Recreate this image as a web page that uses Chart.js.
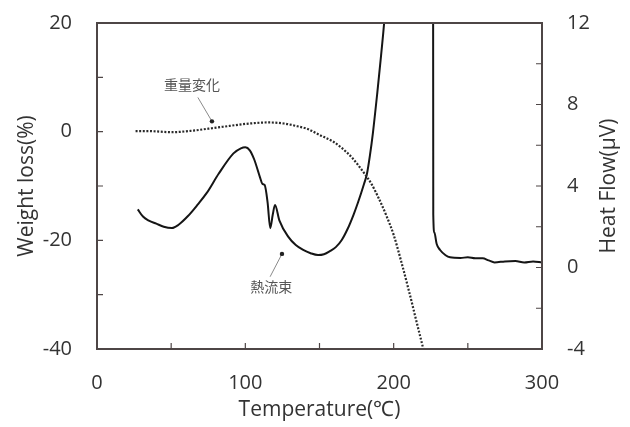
<!DOCTYPE html>
<html>
<head>
<meta charset="utf-8">
<script src="https://cdn.jsdelivr.net/npm/chart.js@4"></script>
<style>
html,body{margin:0;padding:0;background:#fff;}
#wrap{width:630px;height:427px;position:relative;}
</style>
</head>
<body>
<div id="wrap"><canvas id="c" width="630" height="427"></canvas></div>
<script>
// ---- data ----
const weightTemp = [26, 35, 50, 65, 75, 85, 96, 105, 115, 126, 135, 142, 150, 159, 165, 172, 180, 185, 190, 195, 200, 205, 210, 215, 220];
const weightLoss = [0.1, 0.1, -0.1, 0.2, 0.55, 0.9, 1.3, 1.55, 1.7, 1.5, 1.0, 0.5, -0.6, -1.8, -3.0, -4.8, -7.6, -9.6, -12.3, -15.4, -19.0, -23.8, -29.0, -34.5, -40];

const heatTemp = [27.5, 31, 35, 40, 45, 50.5, 55, 61, 68, 74, 82, 92, 97, 100, 103, 106, 110, 111.5, 113, 115, 116.8, 118.5, 120, 123, 129, 134, 139, 144, 149, 153, 157, 161, 165, 169, 173, 176, 180, 182, 184, 186, 189, 191.5, 194, 197, 200, 226.5, 226.7, 227.5, 229, 231.3, 235, 238, 245, 250, 255, 260, 264, 268, 275, 282, 288, 294, 300];
const heatFlow = [2.85, 2.5, 2.3, 2.15, 2.0, 1.94, 2.1, 2.5, 3.1, 3.66, 4.6, 5.6, 5.85, 5.9, 5.75, 5.3, 4.4, 4.1, 4.05, 3.2, 1.93, 2.6, 3.07, 2.3, 1.5, 1.1, 0.86, 0.7, 0.61, 0.65, 0.8, 1.0, 1.35, 1.9, 2.6, 3.2, 4.1, 4.6, 5.5, 6.6, 8.6, 10.4, 12.4, 16, 22, 22, 2.6, 1.7, 1.15, 0.86, 0.6, 0.5, 0.47, 0.5, 0.45, 0.45, 0.35, 0.25, 0.3, 0.32, 0.25, 0.3, 0.25];

const xTicks = [0, 100, 200, 300];
const leftTicks = [-40, -20, 0, 20];
const rightTicks = [-4, 0, 4, 8, 12];

// annotation labels (anchored in left-axis data units)
const noteText = ['重量変化', '熱流束'];
const noteTextT = [64, 117.5];
const noteTextW = [8.7, -28.5];
const noteFromT = [68, 116.7];
const noteFromW = [6.3, -26.7];
const noteToT = [77.5, 124.7];
const noteToW = [1.9, -22.5];

const FRAME = '#4e4646';
const TXT = '#333333';

const decor = {
  id: 'decor',
  afterDatasetsDraw(chart) {
    const {ctx, chartArea: a, scales} = chart;
    const x = scales.x, y = scales.y, y2 = scales.y2;
    ctx.save();
    // frame
    ctx.strokeStyle = FRAME;
    ctx.lineWidth = 2;
    ctx.strokeRect(a.left, a.top, a.right - a.left, a.bottom - a.top);
    // inward ticks
    ctx.lineWidth = 1.2;
    ctx.beginPath();
    for (let t = 50; t < 300; t += 50) {
      const px = x.getPixelForValue(t);
      ctx.moveTo(px, a.bottom); ctx.lineTo(px, a.bottom - 6);
    }
    for (let v = -30; v < 20; v += 10) {
      const py = y.getPixelForValue(v);
      ctx.moveTo(a.left, py); ctx.lineTo(a.left + 6, py);
    }
    for (let v = -2; v < 12; v += 2) {
      const py = y2.getPixelForValue(v);
      ctx.moveTo(a.right, py); ctx.lineTo(a.right - 6, py);
    }
    ctx.stroke();
    // right axis title (reads bottom to top)
    ctx.fillStyle = TXT;
    ctx.font = '21px "Open Sans"';
    ctx.textAlign = 'center';
    ctx.textBaseline = 'middle';
    ctx.translate(609, (a.top + a.bottom) / 2);
    ctx.rotate(-Math.PI / 2);
    ctx.fillText('Heat Flow(\u03bcV)', 0, 0);
    ctx.restore();

    // annotations
    ctx.save();
    for (let i = 0; i < noteText.length; i++) {
      const fx = x.getPixelForValue(noteFromT[i]), fy = y.getPixelForValue(noteFromW[i]);
      const tx = x.getPixelForValue(noteToT[i]), ty = y.getPixelForValue(noteToW[i]);
      ctx.strokeStyle = '#8a8a8a';
      ctx.lineWidth = 1;
      ctx.beginPath(); ctx.moveTo(fx, fy); ctx.lineTo(tx, ty); ctx.stroke();
      ctx.fillStyle = '#222';
      ctx.beginPath(); ctx.arc(tx, ty, 2.2, 0, Math.PI * 2); ctx.fill();
      ctx.fillStyle = '#555';
      ctx.font = '14px "Noto Sans CJK JP"';
      ctx.textAlign = 'center';
      ctx.textBaseline = 'middle';
      ctx.fillText(noteText[i], x.getPixelForValue(noteTextT[i]), y.getPixelForValue(noteTextW[i]));
    }
    ctx.restore();
  }
};

const weightData = weightTemp.map((t, i) => ({x: t, y: weightLoss[i]}));
const heatData = heatTemp.map((t, i) => ({x: t, y: heatFlow[i]}));

function noPad(s) { s.paddingTop = 0; s.paddingBottom = 0; s.paddingLeft = 0; s.paddingRight = 0; }

new Chart(document.getElementById('c'), {
  type: 'line',
  data: {
    datasets: [
      {
        label: '重量変化',
        data: weightData,
        yAxisID: 'y',
        borderColor: '#2a2a2a',
        borderWidth: 2.2,
        borderDash: [2, 1.6],
        pointRadius: 0,
        cubicInterpolationMode: 'monotone',
        clip: 0,
        fill: false
      },
      {
        label: '熱流束',
        data: heatData,
        yAxisID: 'y2',
        borderColor: '#151515',
        borderWidth: 2,
        pointRadius: 0,
        cubicInterpolationMode: 'monotone',
        clip: 0,
        fill: false
      }
    ]
  },
  options: {
    responsive: false,
    animation: false,
    devicePixelRatio: 1,
    layout: {padding: {top: 23, left: 0, right: 0, bottom: 0}},
    plugins: {legend: {display: false}, tooltip: {enabled: false}},
    scales: {
      x: {
        type: 'linear', position: 'bottom', min: 0, max: 300,
        afterBuildTicks: s => { s.ticks = xTicks.map(v => ({value: v})); },
        afterFit: s => { s.height = 78; noPad(s); },
        grid: {display: false, drawTicks: false},
        border: {display: false},
        ticks: {color: TXT, font: {family: 'Open Sans', size: 20}, padding: 22, maxRotation: 0},
        title: {display: true, text: 'Temperature(\u2103)', color: TXT, font: {family: 'Open Sans', size: 21}, padding: {top: 0, bottom: 4}}
      },
      y: {
        type: 'linear', position: 'left', min: -40, max: 20,
        afterBuildTicks: s => { s.ticks = leftTicks.map(v => ({value: v})); },
        afterFit: s => { s.width = 97; noPad(s); },
        grid: {display: false, drawTicks: false},
        border: {display: false},
        ticks: {color: TXT, font: {family: 'Open Sans', size: 20}, padding: 25},
        title: {display: true, text: 'Weight loss(%)', color: TXT, font: {family: 'Open Sans', size: 21}, padding: {top: 14, bottom: 0}}
      },
      y2: {
        type: 'linear', position: 'right', min: -4, max: 12,
        afterBuildTicks: s => { s.ticks = rightTicks.map(v => ({value: v})); },
        afterFit: s => { s.width = 88; noPad(s); },
        grid: {display: false, drawTicks: false},
        border: {display: false},
        ticks: {color: TXT, font: {family: 'Open Sans', size: 20}, padding: 25}
      }
    }
  },
  plugins: [decor]
});
</script>
</body>
</html>
